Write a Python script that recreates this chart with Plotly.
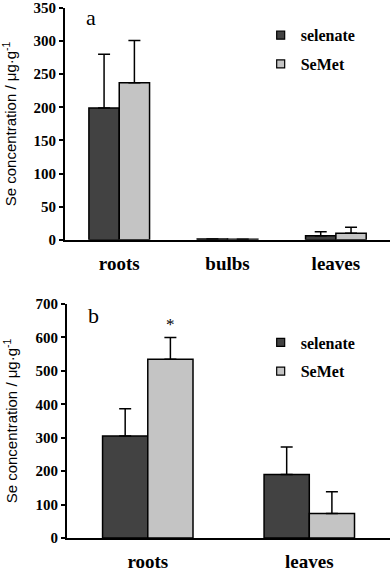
import plotly.graph_objects as go
from plotly.subplots import make_subplots

# panel a
organs_a = ["roots", "bulbs", "leaves"]
selenate_a = [199, 1.2, 6]
selenate_a_err = [81, 0, 6]
semet_a = [237, 0.8, 10]
semet_a_err = [64, 0, 9]

# panel b
organs_b = ["roots", "leaves"]
selenate_b = [305, 190]
selenate_b_err = [82, 82]
semet_b = [535, 73]
semet_b_err = [65, 65]

DARK = "#424242"
LIGHT = "#c4c4c4"
SERIF = "Liberation Serif"

fig = make_subplots(rows=2, cols=1)


def add_bars(x, y, err, name, color, row, legend):
    fig.add_trace(go.Bar(
        x=x, y=y, name=name, marker_color=color,
        marker_line=dict(color="black", width=1.5),
        error_y=dict(type="data", array=err, arrayminus=[0] * len(err), symmetric=False,
                     color="black", thickness=1.5, width=6),
        showlegend=False,
    ), row=row, col=1)
    # small square legend key
    fig.add_trace(go.Scatter(
        x=[None], y=[None], mode="markers", name="<b>%s</b>" % name,
        marker=dict(symbol="square", size=8, color=color, line=dict(color="black", width=1.2)),
        legend=legend, legendgroup=name + legend,
    ), row=row, col=1)


add_bars(organs_a, selenate_a, selenate_a_err, "selenate", DARK, 1, "legend")
add_bars(organs_a, semet_a, semet_a_err, "SeMet", LIGHT, 1, "legend")
add_bars(organs_b, selenate_b, selenate_b_err, "selenate", DARK, 2, "legend2")
add_bars(organs_b, semet_b, semet_b_err, "SeMet", LIGHT, 2, "legend2")

ytitle = "Se concentration / μg·g<sup>-1</sup>"
axis_common = dict(showline=True, linecolor="black", linewidth=2, showgrid=False,
                   zeroline=False, automargin=False, ticklabeloverflow="allow")

fig.update_xaxes(**axis_common, ticks="", ticklabelstandoff=5,
                 tickfont=dict(family=SERIF, size=19, color="black"))
fig.update_xaxes(domain=[0.166, 0.995], row=1, col=1)
fig.update_xaxes(domain=[0.171, 0.995], row=2, col=1)
fig.update_yaxes(**axis_common, ticks="outside", ticklen=4, tickwidth=1.5, tickcolor="black",
                 tickfont=dict(family=SERIF, size=15, color="black"),
                 title=dict(text=ytitle, font=dict(family="Liberation Sans", size=15, color="black"),
                            standoff=14))
fig.update_yaxes(domain=[0.580, 0.986], range=[0, 350], row=1, col=1)
fig.update_yaxes(domain=[0.0578, 0.4676], range=[0, 700], row=2, col=1)

# bold category / tick labels
fig.update_xaxes(ticktext=["<b>%s</b>" % o for o in organs_a], tickvals=organs_a, row=1, col=1)
fig.update_xaxes(ticktext=["<b>%s</b>" % o for o in organs_b], tickvals=organs_b, row=2, col=1)
fig.update_yaxes(ticktext=["<b>%d</b>" % v for v in range(0, 351, 50)],
                 tickvals=list(range(0, 351, 50)), tickmode="array", row=1, col=1)
fig.update_yaxes(ticktext=["<b>%d</b>" % v for v in range(0, 701, 100)],
                 tickvals=list(range(0, 701, 100)), tickmode="array", row=2, col=1)

legend_style = dict(font=dict(family=SERIF, size=16, color="black"), bgcolor="rgba(0,0,0,0)",
                    tracegroupgap=5, traceorder="grouped", itemwidth=30,
                    xanchor="left", yanchor="top")
fig.update_layout(
    legend=dict(x=0.665, y=0.968, **legend_style),
    legend2=dict(x=0.665, y=0.43, **legend_style),
)

fig.add_annotation(text="a", xref="paper", yref="paper", x=0.215, y=0.97, showarrow=False,
                   font=dict(family=SERIF, size=22, color="black"), xanchor="left", yanchor="middle")
fig.add_annotation(text="b", xref="paper", yref="paper", x=0.22, y=0.448, showarrow=False,
                   font=dict(family=SERIF, size=22, color="black"), xanchor="left", yanchor="middle")
fig.add_annotation(text="*", x="roots", y=semet_b[0] + semet_b_err[0], xref="x2", yref="y2",
                   xshift=23, yshift=13, showarrow=False,
                   font=dict(family=SERIF, size=17, color="black"))

fig.update_layout(
    width=392, height=571, margin=dict(l=0, r=0, t=0, b=0),
    paper_bgcolor="white", plot_bgcolor="white",
    barmode="group", bargap=0.44, bargroupgap=0,
)

fig.write_html("out.html", config={"displayModeBar": False},
               post_script="document.body.style.margin = '0';")
